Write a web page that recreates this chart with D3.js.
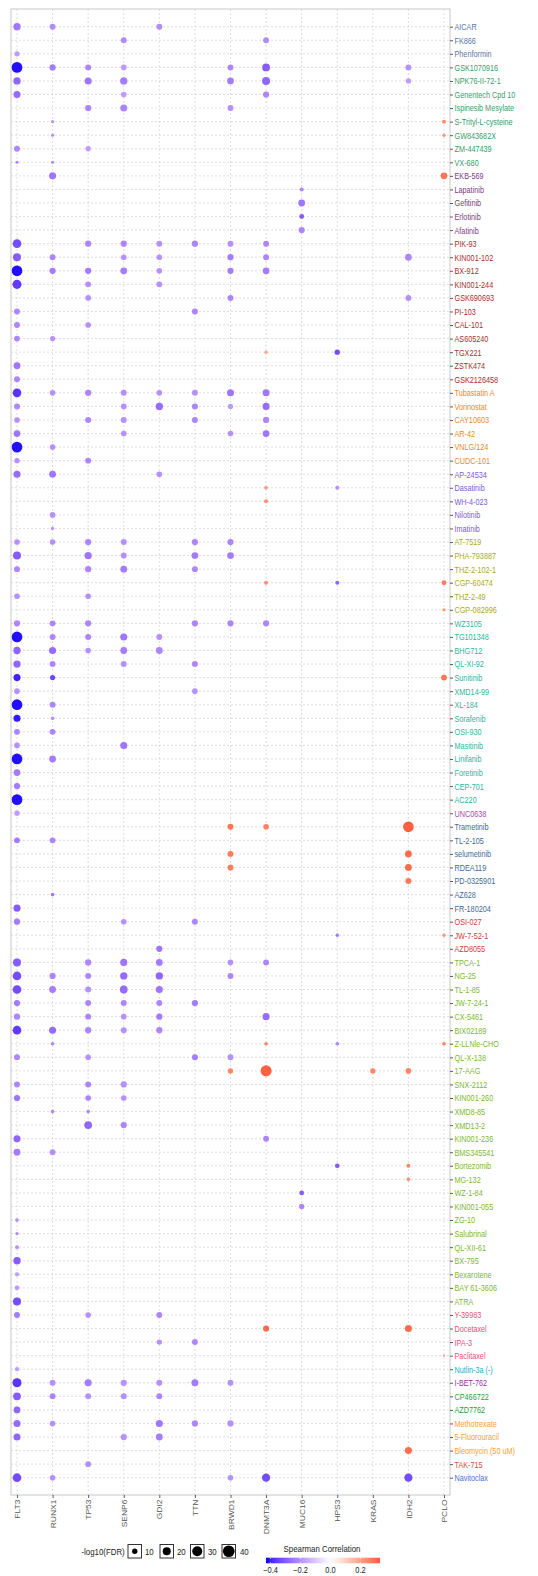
<!DOCTYPE html>
<html><head><meta charset="utf-8">
<script src="https://cdn.jsdelivr.net/npm/d3@7/dist/d3.min.js"></script>
<style>body{margin:0;background:#fff}svg{display:block}text{font-family:"Liberation Sans",Arial,sans-serif}</style>
</head><body>
<script>
const genes = ["FLT3","RUNX1","TP53","SENP6","GDI2","TTN","BRWD1","DNMT3A","MUC16","HPS3","KRAS","IDH2","PCLO"];
const drugs = ["AICAR","FK866","Phenformin","GSK1070916","NPK76-II-72-1","Genentech Cpd 10","Ispinesib Mesylate","S-Trityl-L-cysteine","GW843682X","ZM-447439","VX-680","EKB-569","Lapatinib","Gefitinib","Erlotinib","Afatinib","PIK-93","KIN001-102","BX-912","KIN001-244","GSK690693","PI-103","CAL-101","AS605240","TGX221","ZSTK474","GSK2126458","Tubastatin A","Vorinostat","CAY10603","AR-42","VNLG/124","CUDC-101","AP-24534","Dasatinib","WH-4-023","Nilotinib","Imatinib","AT-7519","PHA-793887","THZ-2-102-1","CGP-60474","THZ-2-49","CGP-082996","WZ3105","TG101348","BHG712","QL-XI-92","Sunitinib","XMD14-99","XL-184","Sorafenib","OSI-930","Masitinib","Linifanib","Foretinib","CEP-701","AC220","UNC0638","Trametinib","TL-2-105","selumetinib","RDEA119","PD-0325901","AZ628","FR-180204","OSI-027","JW-7-52-1","AZD8055","TPCA-1","NG-25","TL-1-85","JW-7-24-1","CX-5461","BIX02189","Z-LLNle-CHO","QL-X-138","17-AAG","SNX-2112","KIN001-260","XMD8-85","XMD13-2","KIN001-236","BMS345541","Bortezomib","MG-132","WZ-1-84","KIN001-055","ZG-10","Salubrinal","QL-XII-61","BX-795","Bexarotene","BAY 61-3606","ATRA","Y-39983","Docetaxel","IPA-3","Paclitaxel","Nutlin-3a (-)","I-BET-762","CP466722","AZD7762","Methotrexate","5-Fluorouracil","Bleomycin (50 uM)","TAK-715","Navitoclax"];
// class of each drug (for label colour)
const drugClassSizes = [3,8,5,11,6,5,6,14,1,7,3,26,4,1,1,2,3,1,1];
// [drug, gene, Spearman correlation, -log10(FDR)]
const points = [
["AICAR","FLT3",-0.25,17],["AICAR","RUNX1",-0.21,12],["AICAR","GDI2",-0.21,12],
["FK866","SENP6",-0.21,12],["FK866","DNMT3A",-0.21,12],
["Phenformin","FLT3",-0.18,10],
["GSK1070916","FLT3",-0.42,34],["GSK1070916","RUNX1",-0.24,13],["GSK1070916","TP53",-0.22,12],["GSK1070916","SENP6",-0.18,11],["GSK1070916","BRWD1",-0.22,12],["GSK1070916","DNMT3A",-0.3,19],["GSK1070916","IDH2",-0.2,12],
["NPK76-II-72-1","FLT3",-0.28,17],["NPK76-II-72-1","TP53",-0.25,16],["NPK76-II-72-1","SENP6",-0.24,17],["NPK76-II-72-1","BRWD1",-0.24,15],["NPK76-II-72-1","DNMT3A",-0.28,20],["NPK76-II-72-1","IDH2",-0.18,10],
["Genentech Cpd 10","FLT3",-0.27,16],["Genentech Cpd 10","SENP6",-0.18,11],["Genentech Cpd 10","DNMT3A",-0.22,13],
["Ispinesib Mesylate","TP53",-0.22,13],["Ispinesib Mesylate","SENP6",-0.22,16],["Ispinesib Mesylate","BRWD1",-0.2,12],
["S-Trityl-L-cysteine","RUNX1",-0.2,5],["S-Trityl-L-cysteine","PCLO",0.25,6.7],
["GW843682X","RUNX1",-0.2,5],["GW843682X","PCLO",0.22,5.5],
["ZM-447439","FLT3",-0.22,12],["ZM-447439","TP53",-0.18,10],
["VX-680","FLT3",-0.22,5],["VX-680","RUNX1",-0.22,5],
["EKB-569","RUNX1",-0.25,16],["EKB-569","PCLO",0.28,15],
["Lapatinib","MUC16",-0.22,6.7],
["Gefitinib","MUC16",-0.25,15],
["Erlotinib","MUC16",-0.3,9],
["Afatinib","MUC16",-0.22,13],
["PIK-93","FLT3",-0.33,23],["PIK-93","TP53",-0.22,13],["PIK-93","SENP6",-0.22,13],["PIK-93","GDI2",-0.2,12],["PIK-93","TTN",-0.22,13],["PIK-93","BRWD1",-0.2,12],["PIK-93","DNMT3A",-0.22,12],
["KIN001-102","FLT3",-0.3,20],["KIN001-102","RUNX1",-0.22,12],["KIN001-102","SENP6",-0.2,11],["KIN001-102","GDI2",-0.2,11],["KIN001-102","BRWD1",-0.24,13],["KIN001-102","DNMT3A",-0.22,12],["KIN001-102","IDH2",-0.22,15],
["BX-912","FLT3",-0.42,34],["BX-912","RUNX1",-0.24,13],["BX-912","TP53",-0.24,13],["BX-912","SENP6",-0.24,15],["BX-912","GDI2",-0.2,11],["BX-912","BRWD1",-0.24,13],["BX-912","DNMT3A",-0.24,15],
["KIN001-244","FLT3",-0.36,25],["KIN001-244","TP53",-0.2,12],["KIN001-244","GDI2",-0.2,12],
["GSK690693","TP53",-0.2,11],["GSK690693","BRWD1",-0.22,12],["GSK690693","IDH2",-0.2,12],
["PI-103","FLT3",-0.22,12],["PI-103","TTN",-0.22,12],
["CAL-101","FLT3",-0.22,12],["CAL-101","TP53",-0.2,11],
["AS605240","FLT3",-0.22,12],["AS605240","RUNX1",-0.2,10],
["TGX221","DNMT3A",0.2,5],["TGX221","HPS3",-0.33,10],
["ZSTK474","FLT3",-0.25,15],
["GSK2126458","FLT3",-0.22,12],
["Tubastatin A","FLT3",-0.37,23],["Tubastatin A","RUNX1",-0.2,11],["Tubastatin A","TP53",-0.22,13],["Tubastatin A","SENP6",-0.2,12],["Tubastatin A","GDI2",-0.2,11],["Tubastatin A","TTN",-0.2,12],["Tubastatin A","BRWD1",-0.25,16],["Tubastatin A","DNMT3A",-0.25,16],
["Vorinostat","FLT3",-0.22,12],["Vorinostat","SENP6",-0.2,11],["Vorinostat","GDI2",-0.27,17],["Vorinostat","TTN",-0.22,12],["Vorinostat","BRWD1",-0.18,10],["Vorinostat","DNMT3A",-0.27,16],
["CAY10603","FLT3",-0.2,11],["CAY10603","TP53",-0.22,12],["CAY10603","SENP6",-0.2,12],["CAY10603","TTN",-0.22,12],["CAY10603","DNMT3A",-0.22,13],
["AR-42","FLT3",-0.25,15],["AR-42","SENP6",-0.2,11],["AR-42","BRWD1",-0.2,11],["AR-42","DNMT3A",-0.25,15],
["VNLG/124","FLT3",-0.42,34],["VNLG/124","RUNX1",-0.2,11],
["CUDC-101","FLT3",-0.2,10],["CUDC-101","TP53",-0.22,12],
["AP-24534","FLT3",-0.27,16],["AP-24534","RUNX1",-0.25,15],["AP-24534","GDI2",-0.2,11],
["Dasatinib","DNMT3A",0.22,6],["Dasatinib","HPS3",-0.2,6.7],
["WH-4-023","DNMT3A",0.24,6.7],
["Nilotinib","RUNX1",-0.2,11],
["Imatinib","RUNX1",-0.2,5.3],
["AT-7519","FLT3",-0.2,11],["AT-7519","RUNX1",-0.2,11],["AT-7519","TP53",-0.22,13],["AT-7519","SENP6",-0.2,12],["AT-7519","TTN",-0.22,13],["AT-7519","BRWD1",-0.22,13],
["PHA-793887","FLT3",-0.3,20],["PHA-793887","TP53",-0.25,17],["PHA-793887","SENP6",-0.2,12],["PHA-793887","TTN",-0.24,15],["PHA-793887","BRWD1",-0.24,15],
["THZ-2-102-1","FLT3",-0.22,12],["THZ-2-102-1","TP53",-0.22,13],["THZ-2-102-1","SENP6",-0.24,15],["THZ-2-102-1","TTN",-0.22,12],
["CGP-60474","DNMT3A",0.24,6.7],["CGP-60474","HPS3",-0.28,6.7],["CGP-60474","PCLO",0.27,9],
["THZ-2-49","FLT3",-0.2,11],["THZ-2-49","TP53",-0.2,11],
["CGP-082996","PCLO",0.22,5.3],
["WZ3105","FLT3",-0.22,13],["WZ3105","RUNX1",-0.22,12],["WZ3105","TP53",-0.22,13],["WZ3105","TTN",-0.22,13],["WZ3105","BRWD1",-0.22,13],["WZ3105","DNMT3A",-0.22,13],
["TG101348","FLT3",-0.42,34],["TG101348","RUNX1",-0.22,12],["TG101348","TP53",-0.22,12],["TG101348","SENP6",-0.25,16],["TG101348","GDI2",-0.2,12],
["BHG712","FLT3",-0.28,17],["BHG712","RUNX1",-0.27,16],["BHG712","TP53",-0.2,11],["BHG712","SENP6",-0.24,15],["BHG712","GDI2",-0.22,15],
["QL-XI-92","FLT3",-0.28,17],["QL-XI-92","RUNX1",-0.22,12],["QL-XI-92","SENP6",-0.2,12],["QL-XI-92","TTN",-0.22,12],
["Sunitinib","FLT3",-0.4,16],["Sunitinib","RUNX1",-0.34,10],["Sunitinib","PCLO",0.28,12],
["XMD14-99","FLT3",-0.2,11],["XMD14-99","TTN",-0.2,11],
["XL-184","FLT3",-0.42,34],["XL-184","RUNX1",-0.22,12],
["Sorafenib","FLT3",-0.41,16],["Sorafenib","RUNX1",-0.2,6],
["OSI-930","FLT3",-0.22,12],["OSI-930","RUNX1",-0.22,12],
["Masitinib","FLT3",-0.2,11],["Masitinib","SENP6",-0.25,16],
["Linifanib","FLT3",-0.42,34],["Linifanib","RUNX1",-0.24,15],
["Foretinib","FLT3",-0.24,15],
["CEP-701","FLT3",-0.24,13],
["AC220","FLT3",-0.42,34],
["UNC0638","FLT3",-0.18,10],
["Trametinib","BRWD1",0.28,12],["Trametinib","DNMT3A",0.26,11],["Trametinib","IDH2",0.32,34],
["TL-2-105","FLT3",-0.24,12],["TL-2-105","RUNX1",-0.22,12],
["selumetinib","BRWD1",0.27,12],["selumetinib","IDH2",0.3,15],
["RDEA119","BRWD1",0.27,12],["RDEA119","IDH2",0.3,15],
["PD-0325901","IDH2",0.28,12],
["AZ628","RUNX1",-0.25,6],
["FR-180204","FLT3",-0.3,16],
["OSI-027","FLT3",-0.24,13],["OSI-027","SENP6",-0.2,11],["OSI-027","TTN",-0.22,12],
["JW-7-52-1","HPS3",-0.25,5.3],["JW-7-52-1","PCLO",0.22,5.3],
["AZD8055","GDI2",-0.25,13],
["TPCA-1","FLT3",-0.3,20],["TPCA-1","TP53",-0.22,13],["TPCA-1","SENP6",-0.25,16],["TPCA-1","GDI2",-0.24,15],["TPCA-1","BRWD1",-0.2,11],["TPCA-1","DNMT3A",-0.22,12],
["NG-25","FLT3",-0.33,23],["NG-25","RUNX1",-0.22,13],["NG-25","TP53",-0.22,12],["NG-25","SENP6",-0.27,17],["NG-25","GDI2",-0.28,17],["NG-25","BRWD1",-0.22,12],
["TL-1-85","FLT3",-0.33,23],["TL-1-85","RUNX1",-0.24,15],["TL-1-85","TP53",-0.2,12],["TL-1-85","SENP6",-0.27,19],["TL-1-85","GDI2",-0.25,16],
["JW-7-24-1","FLT3",-0.24,13],["JW-7-24-1","TP53",-0.22,12],["JW-7-24-1","SENP6",-0.22,12],["JW-7-24-1","GDI2",-0.22,12],["JW-7-24-1","TTN",-0.24,13],
["CX-5461","FLT3",-0.22,13],["CX-5461","TP53",-0.22,12],["CX-5461","SENP6",-0.2,11],["CX-5461","GDI2",-0.24,13],["CX-5461","DNMT3A",-0.27,16],
["BIX02189","FLT3",-0.36,23],["BIX02189","RUNX1",-0.27,16],["BIX02189","TP53",-0.22,13],["BIX02189","SENP6",-0.2,12],["BIX02189","GDI2",-0.22,13],
["Z-LLNle-CHO","RUNX1",-0.22,6],["Z-LLNle-CHO","DNMT3A",0.25,6],["Z-LLNle-CHO","HPS3",-0.22,6],["Z-LLNle-CHO","PCLO",0.25,6],
["QL-X-138","FLT3",-0.22,12],["QL-X-138","TP53",-0.2,11],["QL-X-138","TTN",-0.24,12],["QL-X-138","BRWD1",-0.2,12],
["17-AAG","BRWD1",0.25,10],["17-AAG","DNMT3A",0.32,36],["17-AAG","KRAS",0.25,10],["17-AAG","IDH2",0.25,11],
["SNX-2112","FLT3",-0.22,12],["SNX-2112","TP53",-0.22,12],["SNX-2112","SENP6",-0.2,13],
["KIN001-260","FLT3",-0.25,13],["KIN001-260","TP53",-0.22,11],["KIN001-260","SENP6",-0.2,11],
["XMD8-85","RUNX1",-0.22,6],["XMD8-85","TP53",-0.22,6],
["XMD13-2","TP53",-0.28,19],["XMD13-2","SENP6",-0.22,13],
["KIN001-236","FLT3",-0.28,16],["KIN001-236","DNMT3A",-0.22,12],
["BMS345541","FLT3",-0.24,15],["BMS345541","RUNX1",-0.2,12],
["Bortezomib","HPS3",-0.3,8.4],["Bortezomib","IDH2",0.25,6.7],
["MG-132","IDH2",0.24,6],
["WZ-1-84","MUC16",-0.3,8.4],
["KIN001-055","MUC16",-0.22,10],
["ZG-10","FLT3",-0.2,6],
["Salubrinal","FLT3",-0.22,5],
["QL-XII-61","FLT3",-0.2,6.7],
["BX-795","FLT3",-0.3,17],
["Bexarotene","FLT3",-0.18,7.4],
["BAY 61-3606","FLT3",-0.18,9],
["ATRA","FLT3",-0.33,20],
["Y-39983","FLT3",-0.24,12],["Y-39983","TP53",-0.2,11],["Y-39983","GDI2",-0.22,12],
["Docetaxel","DNMT3A",0.3,13],["Docetaxel","IDH2",0.3,16],
["IPA-3","GDI2",-0.2,10],["IPA-3","TTN",-0.22,12],
["Paclitaxel","PCLO",0.2,3.7],
["Nutlin-3a (-)","FLT3",-0.18,7.4],
["I-BET-762","FLT3",-0.37,25],["I-BET-762","RUNX1",-0.2,12],["I-BET-762","TP53",-0.24,16],["I-BET-762","SENP6",-0.2,13],["I-BET-762","GDI2",-0.2,12],["I-BET-762","TTN",-0.24,16],["I-BET-762","BRWD1",-0.2,12],
["CP466722","FLT3",-0.3,19],["CP466722","RUNX1",-0.22,12],["CP466722","TP53",-0.2,12],["CP466722","SENP6",-0.2,12],["CP466722","GDI2",-0.22,12],
["AZD7762","FLT3",-0.28,15],
["Methotrexate","FLT3",-0.27,16],["Methotrexate","RUNX1",-0.2,11],["Methotrexate","GDI2",-0.25,16],["Methotrexate","TTN",-0.22,13],["Methotrexate","BRWD1",-0.2,13],
["5-Fluorouracil","FLT3",-0.28,16],["5-Fluorouracil","SENP6",-0.2,13],["5-Fluorouracil","GDI2",-0.24,15],
["Bleomycin (50 uM)","IDH2",0.3,16],
["TAK-715","TP53",-0.2,12],
["Navitoclax","FLT3",-0.33,23],["Navitoclax","RUNX1",-0.2,11],["Navitoclax","BRWD1",-0.2,11],["Navitoclax","DNMT3A",-0.33,21],["Navitoclax","IDH2",-0.33,21]
];
const sizeBreaks = [10,20,30,40];
const colorTicks = [-0.4,-0.2,0.0,0.2];

// styles
const classColors = ["#5b74a8","#3c9a6e","#7a3b84","#a5302d","#e8892a","#7b5bd6","#a9a92a","#2fb3a0","#a64ca6","#3f6a99","#d23c3c","#7cb82f","#e0507a","#2aa7c9","#9a2fa0","#2c9b3a","#f5a030","#e04a3a","#4a6fd0"];
const drugColor = {};
{ let k = 0; drugClassSizes.forEach((n, c) => { for (let i = 0; i < n; i++) drugColor[drugs[k++]] = classColors[c]; }); }

const W = 538, H = 1576;
const P = {l: 11, r: 450, t: 9, b: 1495};
const SQ = 0.875;

const svg = d3.select("body").append("svg").attr("width", W).attr("height", H);

const x = d3.scalePoint().domain(genes).range([17, 444]);
const y = d3.scalePoint().domain(drugs).range([26.7, 1477.7]);
const color = d3.scaleLinear().domain([-0.43, 0, 0.33]).range(["#0000ff", "#ffffff", "#ff5a3a"]).interpolate(d3.interpolateLab).clamp(true);
const area = d3.scaleLinear().domain([2.3, 40]).range([0, 137]).clamp(true);
const rad = v => Math.sqrt(area(v)) / 2;

// grid
const grid = svg.append("g");
grid.selectAll("line.v").data(genes).join("line")
  .attr("x1", d => x(d)).attr("x2", d => x(d)).attr("y1", P.t).attr("y2", P.b)
  .attr("stroke", "#d6d6d6").attr("stroke-width", 0.8).attr("stroke-dasharray", "2,2");
grid.selectAll("line.h").data(drugs).join("line")
  .attr("x1", P.l).attr("x2", P.r).attr("y1", d => y(d)).attr("y2", d => y(d))
  .attr("stroke", "#d6d6d6").attr("stroke-width", 0.8).attr("stroke-dasharray", "2,2");

// points
svg.append("g").selectAll("circle").data(points).join("circle")
  .attr("cx", d => x(d[1])).attr("cy", d => y(d[0]))
  .attr("r", d => rad(d[3])).attr("fill", d => color(d[2]));

// panel border
svg.append("rect").attr("x", P.l).attr("y", P.t).attr("width", P.r - P.l).attr("height", P.b - P.t)
  .attr("fill", "none").attr("stroke", "#c8c8c8").attr("stroke-width", 1);

// right axis
const ay = svg.append("g").attr("transform", `translate(${P.r},0)`).call(d3.axisRight(y).tickSize(3));
ay.select(".domain").remove();
ay.selectAll(".tick line").attr("stroke", "#333").attr("stroke-width", 0.8);
ay.selectAll(".tick text").attr("x", null).attr("dy", "0.35em")
  .attr("transform", `translate(4.5,0) scale(${SQ},1)`)
  .attr("font-size", 8.3).attr("font-family", "Liberation Sans, Arial, sans-serif")
  .attr("fill", d => drugColor[d]);

// bottom axis
const ax = svg.append("g").attr("transform", `translate(0,${P.b})`).call(d3.axisBottom(x).tickSize(3));
ax.select(".domain").remove();
ax.selectAll(".tick line").attr("stroke", "#333").attr("stroke-width", 0.8);
ax.selectAll(".tick text").attr("y", null).attr("x", null).attr("dy", "0.35em")
  .attr("text-anchor", "end")
  .attr("transform", `translate(0,4.5) scale(${SQ},1) rotate(-90)`)
  .attr("font-size", 8.5).attr("font-family", "Liberation Sans, Arial, sans-serif").attr("fill", "#555");

// size legend
const lg = svg.append("g");
lg.append("text").attr("transform", `translate(81.5,1554.5) scale(${SQ},1)`)
  .attr("font-size", 9).attr("fill", "#222").text("-log10(FDR)");
const boxX = [128, 160, 190.5, 222];
const labX = [145, 177, 208, 240];
sizeBreaks.forEach((v, i) => {
  lg.append("rect").attr("x", boxX[i]).attr("y", 1544.5).attr("width", 13.5).attr("height", 13.5)
    .attr("fill", "#fff").attr("stroke", "#333").attr("stroke-width", 1);
  lg.append("circle").attr("cx", boxX[i] + 6.75).attr("cy", 1551.25).attr("r", rad(v)).attr("fill", "#000");
  lg.append("text").attr("transform", `translate(${labX[i]},1554.5) scale(${SQ},1)`)
    .attr("font-size", 9).attr("fill", "#222").text(v);
});

// colour legend
const cb = d3.scaleLinear().domain([-0.43, 0.33]).range([266, 380]);
const defs = svg.append("defs");
const grad = defs.append("linearGradient").attr("id", "cg").attr("x1", "0%").attr("x2", "100%");
d3.range(0, 1.0001, 0.05).forEach(t => {
  const v = -0.43 + t * 0.76;
  grad.append("stop").attr("offset", (t * 100) + "%").attr("stop-color", color(v));
});
svg.append("rect").attr("x", 266).attr("y", 1557.7).attr("width", 114).attr("height", 5.6).attr("fill", "url(#cg)");
svg.append("text").attr("transform", `translate(322,1552) scale(${SQ},1)`).attr("text-anchor", "middle")
  .attr("font-size", 9).attr("fill", "#222").text("Spearman Correlation");
colorTicks.forEach(v => {
  svg.append("line").attr("x1", cb(v)).attr("x2", cb(v)).attr("y1", 1557.7).attr("y2", 1559).attr("stroke", "#fff").attr("stroke-width", 0.6);
  svg.append("line").attr("x1", cb(v)).attr("x2", cb(v)).attr("y1", 1562).attr("y2", 1563.3).attr("stroke", "#fff").attr("stroke-width", 0.6);
  svg.append("text").attr("transform", `translate(${cb(v)},1572.5) scale(${SQ},1)`).attr("text-anchor", "middle")
    .attr("font-size", 8.5).attr("fill", "#222").text(d3.format(".1f")(v));
});
</script>
</body></html>
